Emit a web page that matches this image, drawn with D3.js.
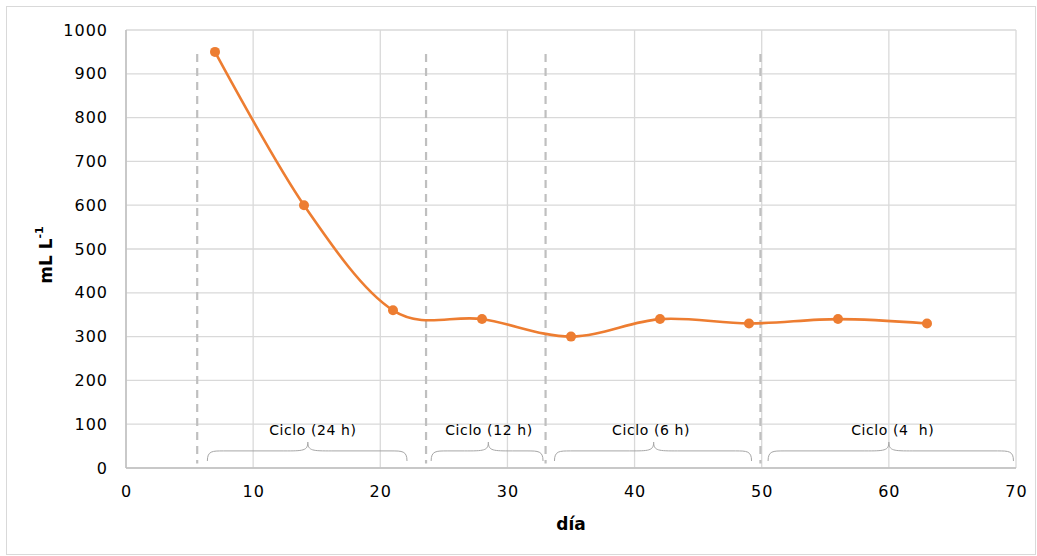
<!DOCTYPE html>
<html><head><meta charset="utf-8">
<script src="https://cdn.jsdelivr.net/npm/d3@7"></script>
<style>body{margin:0;background:#fff}text{font-family:"DejaVu Sans",sans-serif}</style>
</head><body><svg id="c" width="1037" height="556"></svg>
<script>
const days = [7,14,21,28,35,42,49,56,63];
const values = [950,600,360,340,300,340,330,340,330];
const xTicks = [0,10,20,30,40,50,60,70];
const yTicks = [0,100,200,300,400,500,600,700,800,900,1000];
const dividers = [5.6,23.6,33.0,49.9];
const dividerTop = 945, dividerBottom = 10;
const cycleLabels = ["Ciclo (24 h)","Ciclo (12 h)","Ciclo (6 h)","Ciclo (4\u00a0\u00a0h)"];
const braceStart = [6.4,24.0,33.7,50.5];
const braceEnd = [22.1,32.8,49.2,69.8];
const bracePeak = [14.3,28.5,41.5,60.0];
const labelX = [14.7,28.55,41.3,60.3];
const braceLow = 16, braceMid = 39, braceTip = 59, labelY = 84;

const svg = d3.select("#c");
const W=1037,H=556;
svg.append("rect").attr("x",6.5).attr("y",6.5).attr("width",W-8).attr("height",H-8).attr("fill","#fff").attr("stroke","#d9d9d9");
const m={l:126,r:1016,t:30,b:468};
const x=d3.scaleLinear().domain([0,70]).range([m.l,m.r]);
const y=d3.scaleLinear().domain([0,1000]).range([m.b,m.t]);

// grid
svg.append("g").selectAll("line.h").data(yTicks).join("line")
  .attr("x1",m.l).attr("x2",m.r).attr("y1",d=>y(d)).attr("y2",d=>y(d))
  .attr("stroke","#d9d9d9").attr("stroke-width",1.3);
svg.append("g").selectAll("line.v").data(xTicks).join("line")
  .attr("y1",m.t).attr("y2",m.b).attr("x1",d=>x(d)).attr("x2",d=>x(d))
  .attr("stroke","#d9d9d9").attr("stroke-width",1.3);
// axes lines
svg.append("line").attr("x1",m.l).attr("x2",m.r).attr("y1",m.b).attr("y2",m.b).attr("stroke","#bfbfbf").attr("stroke-width",1.5);
svg.append("line").attr("x1",m.l).attr("x2",m.l).attr("y1",m.t).attr("y2",m.b).attr("stroke","#bfbfbf").attr("stroke-width",1.5);

// axis labels via d3 axes
const xa=svg.append("g").attr("transform",`translate(0,${m.b})`)
  .call(d3.axisBottom(x).tickValues(xTicks).tickSize(0).tickPadding(18).tickFormat(d3.format("d")));
xa.select(".domain").remove();
xa.selectAll("text").attr("font-size",16).attr("letter-spacing",1).attr("fill","#000").attr("font-family","DejaVu Sans");
const ya=svg.append("g").attr("transform",`translate(${m.l},0)`)
  .call(d3.axisLeft(y).tickValues(yTicks).tickSize(0).tickPadding(18).tickFormat(d3.format("d")));
ya.select(".domain").remove();
ya.selectAll("text").attr("font-size",16).attr("letter-spacing",1).attr("fill","#000").attr("font-family","DejaVu Sans");

// dividers
svg.append("g").selectAll("line").data(dividers).join("line")
  .attr("x1",d=>x(d)).attr("x2",d=>x(d)).attr("y1",y(dividerTop)).attr("y2",y(dividerBottom))
  .attr("stroke","#bfbfbf").attr("stroke-width",2.2).attr("stroke-dasharray","8,6");

// braces
const bg=svg.append("g");
braceStart.forEach((s,i)=>{
  const x0=x(s),x1=x(braceEnd[i]),xp=x(bracePeak[i]);
  const yl=y(braceLow),ym=y(braceMid),yt=y(braceTip);
  const r=16;
  const p=d3.path();
  p.moveTo(x0,yl);
  p.bezierCurveTo(x0,ym, x0+r*0.3,ym, x0+r,ym);
  p.lineTo(xp-r*1.5,ym);
  p.bezierCurveTo(xp-r*0.3,ym, xp,ym, xp,yt);
  p.bezierCurveTo(xp,ym, xp+r*0.3,ym, xp+r*1.5,ym);
  p.lineTo(x1-r,ym);
  p.bezierCurveTo(x1-r*0.3,ym, x1,ym, x1,yl);
  bg.append("path").attr("d",p.toString()).attr("fill","none").attr("stroke","#a6a6a6").attr("stroke-width",1);
  bg.append("text").attr("x",x(labelX[i])).attr("y",y(labelY)).attr("text-anchor","middle")
    .attr("dominant-baseline","middle").attr("font-size",14).attr("letter-spacing",0.6).attr("fill","#000").text(cycleLabels[i]);
});

// line
const pts=days.map((d,i)=>[d,values[i]]);
svg.append("path").datum(pts)
  .attr("d",d3.line().x(d=>x(d[0])).y(d=>y(d[1])).curve(d3.curveCatmullRom.alpha(0)))
  .attr("fill","none").attr("stroke","#ED7D31").attr("stroke-width",2.6);
svg.append("g").selectAll("circle").data(pts).join("circle")
  .attr("cx",d=>x(d[0])).attr("cy",d=>y(d[1])).attr("r",5).attr("fill","#ED7D31");

// titles
svg.append("text").attr("x",(m.l+m.r)/2).attr("y",525).attr("text-anchor","middle").attr("dominant-baseline","middle")
  .attr("font-size",17).attr("font-weight","bold").text("día");
const yt=svg.append("text").attr("transform",`translate(47,255) rotate(-90)`).attr("text-anchor","middle")
  .attr("dominant-baseline","middle").attr("font-size",17).attr("font-weight","bold");
yt.append("tspan").text("mL L");
yt.append("tspan").attr("font-size",11).attr("dy",-7).text("-1");
</script></body></html>
